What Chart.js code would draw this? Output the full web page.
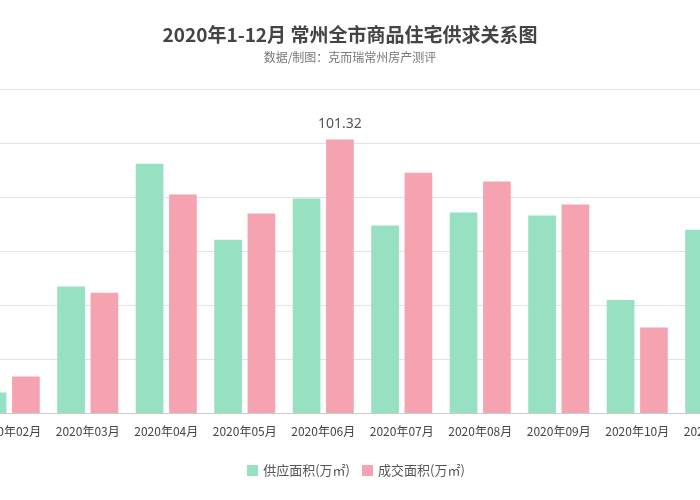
<!DOCTYPE html>
<html><head><meta charset="utf-8">
<script src="https://cdn.jsdelivr.net/npm/chart.js@4/dist/chart.umd.min.js"></script>
<style>
body{margin:0;width:700px;height:500px;overflow:hidden;position:relative;background:#fff;font-family:"Noto Sans CJK SC","Noto Sans",sans-serif}
#wrap{position:absolute;left:-38px;top:0;width:793px;height:500px}
#t{position:absolute;top:20px;left:0;width:700px;text-align:center;font-size:19px;font-weight:bold;color:#444}
#s{position:absolute;top:48px;left:0;width:700px;text-align:center;font-size:12px;color:#777}
#lg{position:absolute;top:460px;left:0;width:700px;text-align:center;font-size:13px;color:#555}
#lg span.b{display:inline-block;width:11px;height:11px;margin:0 5px 0 12px;vertical-align:-1px}
</style></head><body>
<div id="wrap"><canvas id="c" width="793" height="500"></canvas></div>
<div id="t">2020年1-12月 常州全市商品住宅供求关系图</div>
<div id="s">数据/制图：克而瑞常州房产测评</div>
<div id="lg"><span class="b" style="background:#98e0c2"></span>供应面积(万㎡)<span class="b" style="background:#f5a3b0"></span>成交面积(万㎡)</div>
<script>
const categories=["2020年02月","2020年03月","2020年04月","2020年05月","2020年06月","2020年07月","2020年08月","2020年09月","2020年10月","2020年11月"];
const supply=[7.8,47,92.4,64.3,79.5,69.5,74.3,73.2,42,68];
const deal=[13.7,44.7,81,74,101.32,89,85.8,77.3,31.8,60];
const labelPlugin={id:'lbl',afterDatasetsDraw(ch){const m=ch.getDatasetMeta(1);const i=deal.indexOf(Math.max(...deal));const e=m.data[i];const x=ch.ctx;x.save();x.font='14px "Noto Sans"';x.fillStyle='#555';x.textAlign='center';x.fillText(deal[i].toFixed(2),e.x,e.y-12);x.restore();}};
new Chart(document.getElementById('c'),{type:'bar',data:{labels:categories,datasets:[
{label:'供应面积(万㎡)',data:supply,backgroundColor:'#98e0c2',categoryPercentage:0.85,barPercentage:0.83},
{label:'成交面积(万㎡)',data:deal,backgroundColor:'#f5a3b0',categoryPercentage:0.85,barPercentage:0.83}]},
options:{responsive:false,animation:false,layout:{padding:{top:89,bottom:58,left:0,right:0}},
plugins:{legend:{display:false},tooltip:{enabled:false}},
scales:{x:{grid:{display:false},border:{color:'#ccc'},ticks:{color:'#444',font:{size:12,family:'"Noto Sans CJK SC"'},maxRotation:0,autoSkip:false}},
y:{min:0,max:120,ticks:{display:false,stepSize:20},grid:{color:'#e3e3e3'},border:{display:false}}}},plugins:[labelPlugin]});
</script></body></html>
